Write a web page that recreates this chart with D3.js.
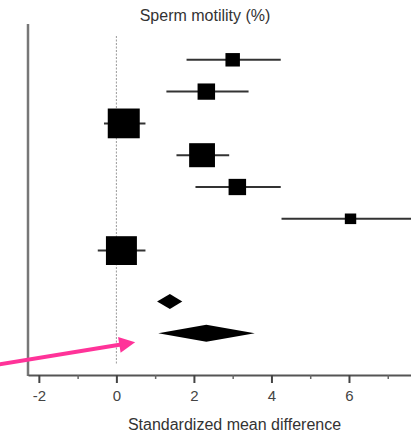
<!DOCTYPE html>
<html>
<head>
<meta charset="utf-8">
<script src="https://cdn.jsdelivr.net/npm/d3@7"></script>
<style>
  body { margin: 0; background: #fff; }
  svg { display: block; font-family: "Liberation Sans", Arial, sans-serif; }
</style>
</head>
<body>
<script>
// Study rows (top to bottom): effect, lower CI, upper CI, weight (%)
var studyEffect = [3.0, 2.32, 0.19, 2.21, 3.12, 6.04, 0.13];
var studyLower  = [1.81, 1.29, -0.32, 1.55, 2.04, 4.26, -0.48];
var studyUpper  = [4.24, 3.41, 0.75, 2.91, 4.24, 9.0, 0.75];
var studyWeight = [5.8, 8.5, 28.4, 18.5, 8.5, 3.6, 26.6];

// Pooled estimates (diamonds)
var pooledEffect = [1.38, 2.32];
var pooledLower  = [1.05, 1.08];
var pooledUpper  = [1.70, 3.57];

var xTicks = [-2, 0, 2, 4, 6];
var xMinorTicks = [-1, 1, 3, 5, 7];

var W = 411, H = 433;
var margin = { top: 24, right: 0, bottom: 57, left: 28 };

var svg = d3.select("body").append("svg")
    .attr("width", W)
    .attr("height", H);

// Scales
var x = d3.scaleLinear()
    .domain([-2.28, 7.6])
    .range([margin.left, W - margin.right]);

// row index -> vertical position
var y = d3.scaleLinear()
    .domain([0, 1])
    .range([59.8, 91.6]);

var size = d3.scaleSqrt()
    .domain([0, d3.max(studyWeight)])
    .range([0, 32]);

var axisY = H - margin.bottom - 1;

// zero reference line
svg.append("line")
    .attr("x1", x(0)).attr("x2", x(0))
    .attr("y1", 36).attr("y2", axisY - 10)
    .attr("stroke", "#999")
    .attr("stroke-width", 1)
    .attr("stroke-dasharray", "2,1.5");

svg.append("defs").append("clipPath").attr("id", "clip")
    .append("rect")
    .attr("x", margin.left).attr("y", 0)
    .attr("width", W - margin.left).attr("height", axisY);

var studies = studyEffect.map(function (d, i) {
  return { est: d, lo: studyLower[i], hi: studyUpper[i], w: studyWeight[i], row: i };
});

var g = svg.append("g").attr("clip-path", "url(#clip)");

// CI lines
g.selectAll("line.ci")
    .data(studies)
    .enter().append("line")
    .attr("class", "ci")
    .attr("x1", d => x(d.lo))
    .attr("x2", d => x(d.hi))
    .attr("y1", d => y(d.row))
    .attr("y2", d => y(d.row))
    .attr("stroke", "#333")
    .attr("stroke-width", 2);

// weight squares
g.selectAll("rect.box")
    .data(studies)
    .enter().append("rect")
    .attr("class", "box")
    .attr("x", d => x(d.est) - size(d.w) / 2)
    .attr("y", d => y(d.row) - size(d.w) / 2 * 0.93)
    .attr("width", d => size(d.w))
    .attr("height", d => size(d.w) * 0.93)
    .attr("fill", "#000");

// pooled diamonds (placed below the studies)
var pooled = pooledEffect.map(function (d, i) {
  return { est: d, lo: pooledLower[i], hi: pooledUpper[i], row: 7.6 + i, h: i === 0 ? 7.5 : 8.5 };
});
g.selectAll("path.diamond")
    .data(pooled)
    .enter().append("path")
    .attr("class", "diamond")
    .attr("d", function (d) {
      var cy = y(d.row);
      return "M" + x(d.lo) + "," + cy +
             "L" + x(d.est) + "," + (cy - d.h) +
             "L" + x(d.hi) + "," + cy +
             "L" + x(d.est) + "," + (cy + d.h) + "Z";
    })
    .attr("fill", "#000");

// left axis line
svg.append("line")
    .attr("x1", margin.left).attr("x2", margin.left)
    .attr("y1", 24).attr("y2", axisY + 1)
    .attr("stroke", "#777")
    .attr("stroke-width", 2.5);

// bottom axis
var xAxis = svg.append("g")
    .attr("transform", "translate(0," + axisY + ")")
    .call(d3.axisBottom(x).tickValues(xTicks).tickSize(8).tickSizeOuter(0)
      .tickPadding(7).tickFormat(d => String(d)));
xAxis.select(".domain").attr("stroke", "#555").attr("stroke-width", 2);
xAxis.selectAll(".tick line").attr("stroke", "#444").attr("stroke-width", 2);
xAxis.selectAll(".tick text")
    .attr("font-size", 15)
    .attr("fill", "#444")
    .attr("font-family", "Liberation Sans, Arial, sans-serif");

var minor = svg.append("g")
    .attr("transform", "translate(0," + axisY + ")")
    .call(d3.axisBottom(x).tickValues(xMinorTicks).tickSize(4).tickFormat(""));
minor.select(".domain").remove();
minor.selectAll(".tick line").attr("stroke", "#666").attr("stroke-width", 1.5);

// title
svg.append("text")
    .attr("x", 205)
    .attr("y", 21)
    .attr("text-anchor", "middle")
    .attr("font-size", 16)
    .attr("fill", "#333")
    .text("Sperm motility (%)");

// x label
svg.append("text")
    .attr("x", 234.5)
    .attr("y", 430)
    .attr("text-anchor", "middle")
    .attr("font-size", 16)
    .attr("fill", "#333")
    .text("Standardized mean difference");

// pink arrow annotation
svg.append("defs").append("marker")
    .attr("id", "head")
    .attr("viewBox", "0 0 10 10")
    .attr("refX", 2).attr("refY", 5)
    .attr("markerWidth", 4.5).attr("markerHeight", 4)
    .attr("markerUnits", "strokeWidth")
    .attr("orient", "auto")
    .append("path")
    .attr("d", "M0,0L10,5L0,10Z")
    .attr("fill", "#ff3399");

svg.append("line")
    .attr("x1", -2).attr("y1", 364.5)
    .attr("x2", 122.5).attr("y2", 344.3)
    .attr("stroke", "#ff3399")
    .attr("stroke-width", 4)
    .attr("marker-end", "url(#head)");
</script>
</body>
</html>
